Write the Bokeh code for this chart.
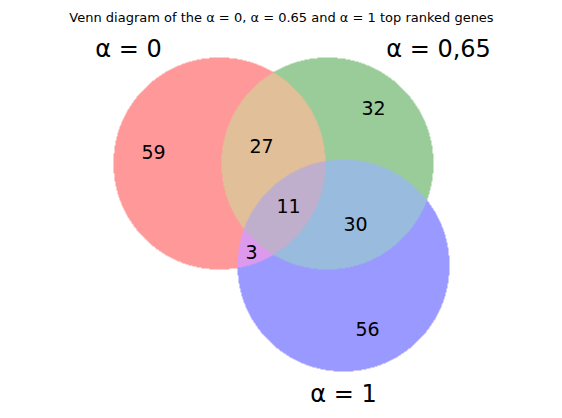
import numpy as np
from bokeh.plotting import figure
from bokeh.models import Range1d
from bokeh.core.properties import value
from bokeh.embed import file_html
from bokeh.resources import INLINE

W, H = 546, 402
DX, DY = 8, -8  # page offset correction

set_names = ["α = 0", "α = 0,65", "α = 1"]
# circle centres / radius in page pixels (layout)
centers = [(211, 247), (319, 247), (335, 145)]
radius = 106
set_label_pos = [(120, 362), (430, 362), (335, 17)]

region_counts = {"100": 59, "010": 32, "001": 56, "110": 27, "101": 3, "011": 30, "111": 11}
region_label_pos = {"100": (145, 259), "010": (365, 303), "001": (359, 82),
                    "110": (253, 265), "101": (243, 159), "011": (347, 187), "111": (280, 205)}
region_colors = {"100": (255, 153, 153), "010": (153, 204, 153), "001": (153, 153, 255),
                 "110": (224, 191, 153), "101": (221, 153, 238), "011": (153, 187, 221),
                 "111": (191, 175, 204)}

yy, xx = np.mgrid[0:H, 0:W] + 0.5
inside = [(xx - cx - DX) ** 2 + (yy - cy - DY) ** 2 <= radius ** 2 for cx, cy in centers]
img = np.zeros((H, W), dtype=np.uint32)
view = img.view(dtype=np.uint8).reshape((H, W, 4))
for key, (r, g, b) in region_colors.items():
    m = np.ones((H, W), bool)
    for k, c in zip(key, inside):
        m &= c if k == "1" else ~c
    view[m] = (r, g, b, 255)

p = figure(width=W, height=H, output_backend="svg", toolbar_location=None,
           x_range=Range1d(0, W), y_range=Range1d(0, H), min_border=0)
p.axis.visible = False
p.grid.visible = False
p.outline_line_color = None
p.image_rgba(image=[img], x=0, y=0, dw=W, dh=H)

font = value("DejaVu Sans")
keys = list(region_counts)
p.text(x=[region_label_pos[k][0] + DX for k in keys], y=[region_label_pos[k][1] + DY for k in keys],
       text=[str(region_counts[k]) for k in keys], text_align="center", text_baseline="middle",
       text_font_size="19px", text_color="black", text_font=font)
p.text(x=[q[0] + DX for q in set_label_pos], y=[q[1] + DY for q in set_label_pos], text=set_names,
       text_align="center", text_baseline="middle", text_font_size="24px", text_color="black",
       text_font=font)
p.text(x=[W / 2 + DX], y=[393 + DY], text=["Venn diagram of the α = 0, α = 0.65 and α = 1 top ranked genes"],
       text_align="center", text_baseline="middle", text_font_size="13px", text_font=font)

open("out.html", "w").write(file_html(p, INLINE))
